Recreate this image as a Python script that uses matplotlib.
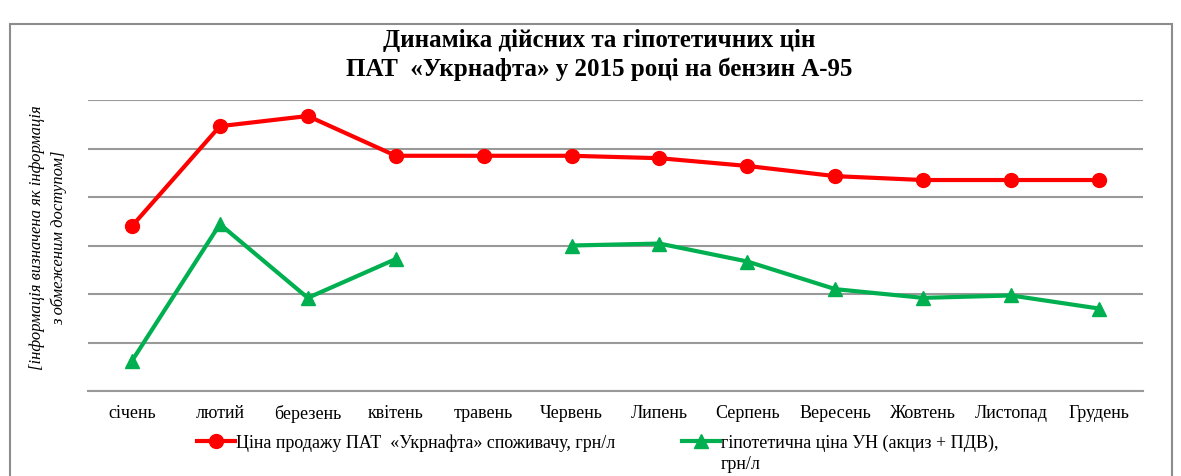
import matplotlib
matplotlib.use("Agg")
import matplotlib.pyplot as plt
import numpy as np
from matplotlib.patches import Rectangle
from matplotlib.lines import Line2D

months = ["січень", "лютий", "березень", "квітень", "травень", "Червень",
          "Липень", "Серпень", "Вересень", "Жовтень", "Листопад", "Грудень"]
actual_price = [3.40, 5.46, 5.67, 4.85, 4.85, 4.85, 4.80, 4.64, 4.43, 4.35, 4.35, 4.35]
hypothetical_price = [0.62, 3.44, 1.92, 2.72, np.nan, 3.00, 3.04, 2.67, 2.10, 1.92, 1.97, 1.70]
label_actual = "Ціна продажу ПАТ  «Укрнафта» споживачу, грн/л"
label_hyp = "гіпотетична ціна УН (акциз + ПДВ),\nгрн/л"
title = "Динаміка дійсних та гіпотетичних цін\nПАТ  «Укрнафта» у 2015 році на бензин А-95"
ylabel = "[інформація визначена як інформація\nз обмеженим доступом]"

RED = "#ff0000"
GREEN = "#00b050"
W, H = 1181, 477
fig = plt.figure(figsize=(W / 100, H / 100), dpi=100)
serif = ["Liberation Serif", "DejaVu Serif"]

# outer frame
fig.patches.append(Rectangle((10 / W, -0.1), 1162 / W, 1.1 - 25 / H,
                             transform=fig.transFigure, fill=False,
                             edgecolor="#8c8c8c", linewidth=1.5))

ax = fig.add_axes([88 / W, 1 - 392 / H, (1143 - 88) / W, (392 - 101) / H])
x = np.arange(len(months))
ax.set_xlim(-0.5, len(months) - 0.5)
ax.set_ylim(0, 6)
ax.set_yticks(np.arange(0, 7, 1))
ax.yaxis.grid(True, color="#999999", linewidth=1.5)
ax.set_axisbelow(True)
for s in ["top", "right", "left"]:
    ax.spines[s].set_visible(False)
ax.spines["bottom"].set_color("#999999")
ax.spines["bottom"].set_linewidth(1.5)
ax.tick_params(axis="y", left=False, labelleft=False)
ax.tick_params(axis="x", bottom=False, pad=6)
ax.set_xticks(x)
ax.set_xticklabels(months, fontfamily=serif, fontsize=13)

ax.plot(x, actual_price, color=RED, linewidth=3, marker="o", markersize=10,
        label=label_actual, clip_on=False)
ax.plot(x, hypothetical_price, color=GREEN, linewidth=3, marker="^", markersize=10,
        label=label_hyp, clip_on=False)

fig.text(599 / W, 1 - 55 / H, title, ha="center", va="center", fontfamily=serif,
         fontweight="bold", fontsize=18, linespacing=1.3)
fig.text(48 / W, 1 - 238 / H, ylabel, ha="center", va="center", rotation=90,
         fontfamily=serif, style="italic", fontsize=12, linespacing=1.45)

# legend (handle aligned with first text line, as in the reference)
ly = 1 - 442 / H
for (x0, x1), col, mk, lab in [((197, 235), RED, "o", label_actual),
                               ((682, 720), GREEN, "^", label_hyp)]:
    fig.add_artist(Line2D([x0 / W, x1 / W], [ly, ly], transform=fig.transFigure,
                          color=col, linewidth=3))
    fig.add_artist(Line2D([(x0 + x1) / 2 / W], [ly], transform=fig.transFigure,
                          color=col, marker=mk, markersize=10, linestyle="none"))
    fig.text((x1 + 1) / W, 1 - 435 / H, lab, ha="left", va="top", fontfamily=serif,
             fontsize=13, linespacing=1.3)

fig.savefig("out.png", dpi=100)
